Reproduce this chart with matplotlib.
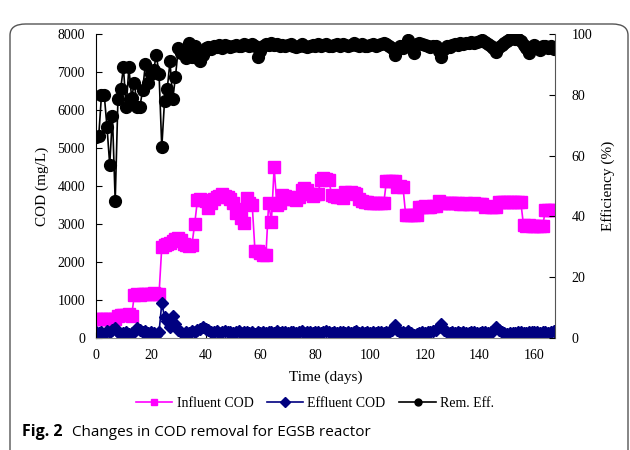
"""
Recreate Fig. 2: COD removal in the EGSB reactor.
"""

import matplotlib
matplotlib.use("Agg")
import matplotlib.pyplot as plt
from matplotlib.patches import FancyBboxPatch

# ── Data ─────────────────────────────────────────────────────────
days = list(range(0, 168))

influent_cod = [
    500, 510, 500, 505, 500, 510, 500, 505, 590, 600,
    610, 600, 620, 590, 1130, 1150, 1120, 1150, 1160, 1150,
    1170, 1180, 1150, 1160, 2400, 2450, 2480, 2500, 2550, 2600,
    2620, 2580, 2480, 2450, 2420, 2450, 3000, 3620, 3650, 3640,
    3600, 3420, 3550, 3650, 3700, 3750, 3800, 3750, 3700, 3650,
    3550, 3280, 3400, 3150, 3020, 3680, 3550, 3500, 2300, 2300,
    2250, 2180, 2180, 3550, 3060, 4490, 3500, 3550, 3760, 3750,
    3700, 3650, 3650, 3630, 3700, 3900, 3940, 3900, 3800, 3750,
    3800, 3800, 4150, 4200, 4180, 4150, 3760, 3750, 3700, 3700,
    3680, 3850, 3820, 3850, 3810, 3780, 3650, 3600, 3590, 3590,
    3550, 3560, 3550, 3550, 3540, 3550, 4140, 4140, 4130, 4140,
    3980, 3990, 3980, 3240, 3240, 3230, 3240, 3250, 3460, 3450,
    3470, 3460, 3450, 3480, 3470, 3600, 3560, 3550, 3540, 3550,
    3560, 3550, 3540, 3520, 3530, 3540, 3520, 3530, 3540, 3530,
    3520, 3530, 3460, 3470, 3460, 3450, 3460, 3580, 3570, 3580,
    3590, 3580, 3570, 3580, 3590, 3580, 2970, 2960, 2980, 2950,
    2960, 2950, 2940, 2950, 3370, 3360, 3370, 3380,
]

effluent_cod = [
    170, 120, 150, 100, 180, 160, 200, 250, 150, 90,
    130, 170, 100, 140, 150, 250, 200, 150, 180, 120,
    160, 120, 80, 150, 920, 550, 450, 300, 580, 380,
    200, 150, 100, 150, 120, 180, 150, 200, 230, 280,
    240, 200, 170, 150, 180, 140, 160, 190, 150, 170,
    130, 160, 180, 140, 150, 170, 130, 160, 110, 150,
    140, 170, 120, 150, 160, 130, 180, 140, 150, 170,
    130, 160, 150, 120, 170, 180, 140, 160, 150, 130,
    170, 150, 140, 160, 180, 150, 130, 160, 140, 170,
    150, 130, 160, 140, 150, 180, 140, 150, 130, 160,
    140, 150, 120, 160, 150, 140, 170, 150, 220, 330,
    200, 150, 170, 140, 180, 120, 90, 110, 130, 150,
    140, 160, 150, 180, 200, 280, 360, 220, 160, 140,
    150, 130, 160, 140, 150, 120, 140, 160, 150, 130,
    140, 150, 160, 140, 170, 190, 290, 200, 150, 130,
    110, 120, 140, 130, 150, 160, 140, 130, 150, 160,
    150, 170, 140, 150, 160, 140, 170, 180,
]

removal_eff = [
    66.0, 66.5, 80.0, 80.0, 69.5, 57.0, 73.0, 45.0, 78.5, 82.0,
    89.0, 76.0, 89.0, 79.0, 84.0, 76.0, 76.0, 81.5, 90.0, 84.0,
    87.0, 88.0, 93.0, 87.0, 62.7, 78.0, 82.0, 91.0, 78.5, 86.0,
    95.3, 93.6, 94.0, 92.0, 97.0, 92.5, 96.0, 92.0, 91.0, 93.0,
    95.5, 95.6, 95.2, 96.0, 95.8, 96.3, 95.5, 96.4, 96.0, 95.7,
    96.2, 96.5, 95.9, 96.1, 96.8, 96.3, 96.0, 96.6, 96.2, 92.5,
    94.5, 96.0, 96.8, 96.5, 97.0, 96.4, 96.8, 96.2, 96.5, 96.0,
    96.3, 96.7, 96.1, 95.8, 96.2, 96.6, 96.0, 95.7, 96.1, 96.5,
    96.2, 96.7, 96.0, 96.4, 96.8, 96.1, 95.9, 96.3, 96.6, 96.2,
    96.8, 96.4, 96.0, 96.5, 96.9, 96.3, 96.1, 96.6, 96.2, 96.0,
    96.4, 96.7, 96.2, 96.5, 96.8, 97.2, 96.6, 96.0, 95.5, 93.0,
    95.0, 96.0, 95.5, 96.5, 98.0, 96.5, 93.7, 96.8, 97.0, 96.7,
    96.4, 96.0, 95.8, 96.2, 96.0, 94.5, 92.5, 95.0, 96.0, 95.8,
    96.3, 96.6, 96.5, 97.0, 96.8, 96.9, 97.2, 97.5, 97.0, 97.3,
    97.8, 98.0, 97.5, 96.8, 96.2, 95.5, 94.0, 95.8, 96.5, 97.2,
    97.8, 98.3, 98.7, 98.5, 98.2, 97.6, 96.5, 95.5, 93.7, 95.8,
    96.5, 95.5, 94.8, 96.2, 96.0, 95.5, 96.0, 95.0,
]

x_ticks = [0, 20, 40, 60, 80, 100, 120, 140, 160]
cod_ticks = [0, 1000, 2000, 3000, 4000, 5000, 6000, 7000, 8000]
eff_ticks = [0, 20, 40, 60, 80, 100]

plt.rcParams["font.family"] = ["Liberation Serif", "DejaVu Serif"]

fig = plt.figure(figsize=(6.3, 4.5), dpi=100)
ax = fig.add_axes([0.1524, 0.2489, 0.7286, 0.6755])
ax2 = ax.twinx()

# ── COD series (left axis) ───────────────────────────────────────
ax.plot(days, influent_cod, color="#FF00FF", marker="s", markersize=8,
        linewidth=1.2, label="Influent COD")
ax.plot(days, effluent_cod, color="#000080", marker="D", markersize=6.5,
        linewidth=1.2, label="Effluent COD")

# ── Removal efficiency (right axis) ──────────────────────────────
ax2.plot(days, removal_eff, color="black", marker="o", markersize=8.5,
         linewidth=1.2, label="Rem. Eff.")

ax.set_xlim(0, 167.5)
ax.set_ylim(0, 8000)
ax2.set_ylim(0, 100)
ax.set_xticks(x_ticks)
ax.set_yticks(cod_ticks)
ax2.set_yticks(eff_ticks)

for a in (ax, ax2):
    a.spines["top"].set_visible(False)
    a.tick_params(direction="in", length=4, labelsize=10, width=0.8)
ax.spines["bottom"].set_color("#888888")
ax2.spines["bottom"].set_visible(False)
ax2.spines["left"].set_visible(False)
ax2.spines["right"].set_color("#555555")
ax.spines["right"].set_visible(False)
ax.tick_params(axis="y", pad=8)
ax.tick_params(axis="x", pad=8)
ax2.tick_params(axis="y", pad=12)

ax.set_xlabel("Time (days)", fontsize=11, labelpad=6)
ax.set_ylabel("COD (mg/L)", fontsize=11, labelpad=6)
ax2.set_ylabel("Efficiency (%)", fontsize=11, labelpad=6)

handles = ax.get_lines() + ax2.get_lines()
leg = fig.legend(handles, [h.get_label() for h in handles],
                 loc="center", bbox_to_anchor=(0.5, 0.104), ncol=3,
                 frameon=False, fontsize=10, handlelength=2.6,
                 columnspacing=1.0, handletextpad=0.3)
for h in leg.legend_handles:
    h.set_markersize(5)

# ── Caption and frame ────────────────────────────────────────────
fig.text(0.035, 0.04, "Fig. 2", fontsize=11.5, fontweight="bold",
         family=["Open Sans", "DejaVu Sans"], va="center")
fig.text(0.114, 0.04, "Changes in COD removal for EGSB reactor", fontsize=11,
         family=["Open Sans", "DejaVu Sans"], va="center")

frame = FancyBboxPatch((10 / 630, -0.05), 618 / 630, (438 - 12) / 450 + 0.05,
                       boxstyle="round,pad=0,rounding_size=0.025",
                       transform=fig.transFigure, fill=False,
                       edgecolor="#555555", linewidth=1.0)
fig.patches.append(frame)

fig.savefig("out.png", dpi=100)
